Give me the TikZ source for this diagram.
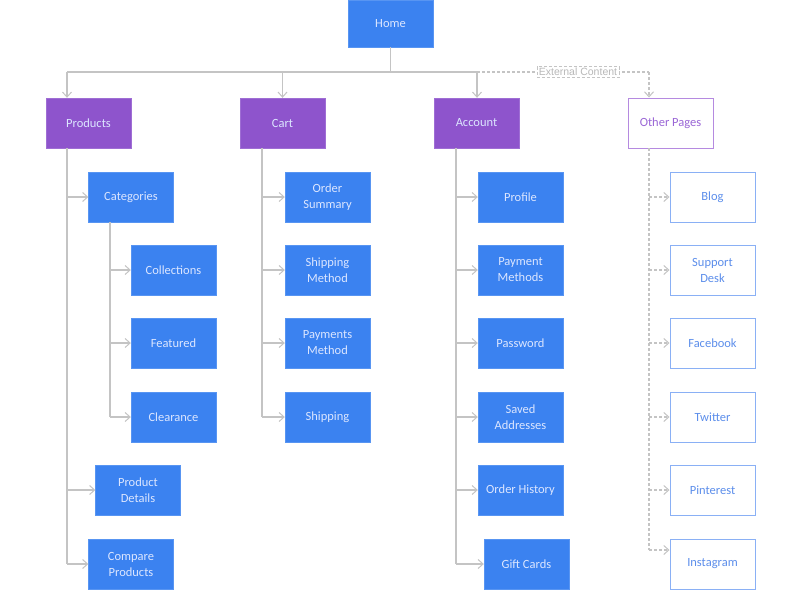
\documentclass[tikz,border=0pt]{standalone}
\usepackage{fontspec}
\setmainfont{Carlito}
\newfontfamily\labelfont{Liberation Sans}
\usetikzlibrary{arrows.meta}
\definecolor{bluebox}{HTML}{3B82F0}
\definecolor{purplebox}{HTML}{8E54CC}
\definecolor{linegray}{HTML}{C4C4C4}
\definecolor{boxtext}{HTML}{DCE6FF}
\definecolor{outblue}{HTML}{8AB0F5}
\definecolor{outtext}{HTML}{5C8EEB}
\definecolor{outpurple}{HTML}{B58AE0}
\definecolor{purpletext}{HTML}{9A66D6}
\definecolor{labelgray}{HTML}{B8B8B8}
\tikzset{
  base/.style={minimum width=85pt, minimum height=50pt, inner sep=2pt, align=center, font=\fontsize{12.5}{16}\selectfont},
  bluenode/.style={base, fill=bluebox, draw=bluebox!85!white, text=boxtext},
  purplenode/.style={base, fill=purplebox, draw=purplebox!85!white, text=boxtext},
  outnode/.style={base, fill=white, draw=outblue, line width=1pt, text=outtext},
  otherpg/.style={base, fill=white, draw=outpurple, line width=1pt, text=purpletext},
  conn/.style={draw=linegray, line width=1.4pt, -{Straight Barb[length=5pt,width=9pt,line width=1pt]}},
  plain/.style={draw=linegray, line width=1.4pt},
  dconn/.style={draw=linegray, line width=1.2pt, dash pattern=on 3pt off 2pt, -{Straight Barb[length=5pt,width=9pt,line width=1pt]}},
  dplain/.style={draw=linegray, line width=1.2pt, dash pattern=on 3pt off 2pt},
  extlabel/.style={fill=white, draw=linegray, densely dashed, line width=0.8pt, inner xsep=2pt, inner ysep=1.5pt, text=labelgray, font=\labelfont\fontsize{10.5}{11}\selectfont},
}
\begin{document}
\begin{tikzpicture}[x=1pt,y=-1pt]
\useasboundingbox[fill=white] (0,0) rectangle (800,600);
% top level
\node[bluenode, minimum height=47pt] (home) at (390.5,23.5) {Home};
\node[purplenode] (products) at (88.5,123) {Products};
\node[purplenode] (cart) at (282.5,123) {Cart};
\node[purplenode] (account) at (476.5,123) {Account};
\node[otherpg] (other) at (670.5,123) {Other Pages};
% products
\node[bluenode] (categories) at (131,197) {Categories};
\node[bluenode] (collections) at (173.5,270) {Collections};
\node[bluenode] (featured) at (173.5,343) {Featured};
\node[bluenode] (clearance) at (173.5,417) {Clearance};
\node[bluenode] (pdetails) at (138,490) {Product\\Details};
\node[bluenode] (compare) at (131,564) {Compare\\Products};
% cart
\node[bluenode] (osum) at (327.5,197) {Order\\Summary};
\node[bluenode] (shipm) at (327.5,270) {Shipping\\Method};
\node[bluenode] (paym) at (327.5,343) {Payments\\Method};
\node[bluenode] (ship) at (327.5,417) {Shipping};
% account
\node[bluenode] (profile) at (520.5,197) {Profile};
\node[bluenode] (paymeth) at (520.5,270) {Payment\\Methods};
\node[bluenode] (password) at (520.5,343) {Password};
\node[bluenode] (saved) at (520.5,417) {Saved\\Addresses};
\node[bluenode] (ohist) at (520.5,490) {Order History};
\node[bluenode] (gift) at (526.5,564) {Gift Cards};
% other pages
\node[outnode] (blog) at (712.5,197) {Blog};
\node[outnode] (support) at (712.5,270) {Support\\Desk};
\node[outnode] (facebook) at (712.5,343) {Facebook};
\node[outnode] (twitter) at (712.5,417) {Twitter};
\node[outnode] (pinterest) at (712.5,490) {Pinterest};
\node[outnode] (instagram) at (712.5,564) {Instagram};
% coordinates
\coordinate (hb) at (home.south |- 0,72);
\coordinate (hl) at (67,72);
\coordinate (hr) at (477,72);
\coordinate (ho) at (649,72);
% top connectors
\draw[plain] (home.south) -- (hb);
\draw[plain] (hl) -- (hr);
\draw[conn] (hl) -- (hl |- products.north);
\draw[conn] (cart.north |- hb) -- (cart.north);
\draw[conn] (hr) -- (hr |- account.north);
\draw[dplain] (hr) -- (ho);
\node[extlabel] (ext) at (578,72) {External Content};
\draw[dconn] (ho) -- (ho |- other.north);
% products trunk
\coordinate (pt) at (67,148);
\draw[plain] (pt) -- (67,564);
\draw[conn] (67,197) -- (categories.west);
\draw[conn] (67,490) -- (pdetails.west);
\draw[conn] (67,564) -- (compare.west);
\coordinate (ct) at (110,222);
\draw[plain] (ct) -- (110,417);
\draw[conn] (110,270) -- (collections.west);
\draw[conn] (110,343) -- (featured.west);
\draw[conn] (110,417) -- (clearance.west);
% cart trunk
\draw[plain] (262,148) -- (262,417);
\draw[conn] (262,197) -- (osum.west);
\draw[conn] (262,270) -- (shipm.west);
\draw[conn] (262,343) -- (paym.west);
\draw[conn] (262,417) -- (ship.west);
% account trunk
\draw[plain] (456,148) -- (456,564);
\draw[conn] (456,197) -- (profile.west);
\draw[conn] (456,270) -- (paymeth.west);
\draw[conn] (456,343) -- (password.west);
\draw[conn] (456,417) -- (saved.west);
\draw[conn] (456,490) -- (ohist.west);
\draw[conn] (456,564) -- (gift.west);
% other trunk
\draw[dplain] (649,148) -- (649,550);
\draw[dconn] (649,197) -- (blog.west);
\draw[dconn] (649,270) -- (support.west);
\draw[dconn] (649,343) -- (facebook.west);
\draw[dconn] (649,417) -- (twitter.west);
\draw[dconn] (649,490) -- (pinterest.west);
\draw[dconn] (649,550) -- (instagram.west |- 0,550);
\end{tikzpicture}
\end{document}
